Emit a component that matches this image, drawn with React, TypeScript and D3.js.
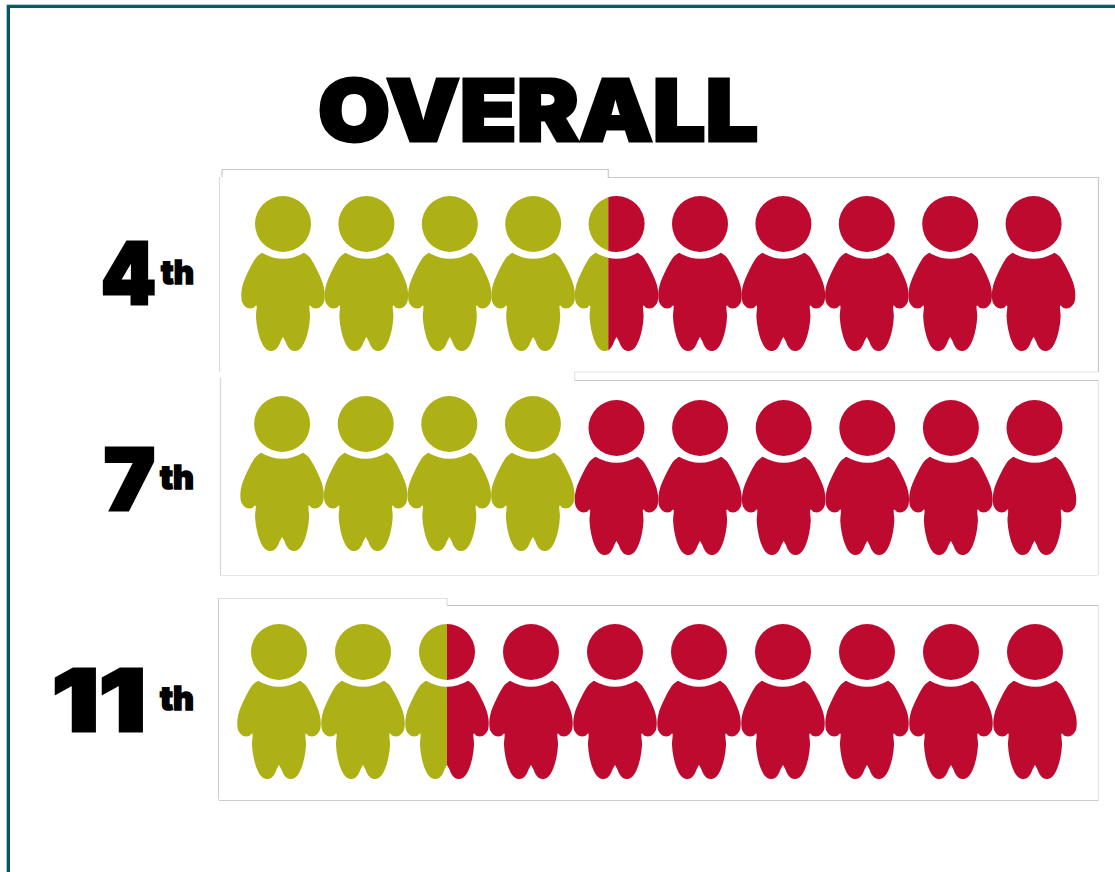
import React from "react";
import * as d3 from "d3";

// Rows of the pictogram: how many of every ten pupils are on track, by grade.
const grades = ["4", "7", "11"];
const onTrack = [4.4, 4, 2.5];
const peopleCount = 10;

const OLIVE = "#aeb115";
const RED = "#bf0a30";
const TEAL = "#005a5f";
const FONT = "Inter, 'Liberation Sans', Arial, sans-serif";

// Per-row layout: icon span, head centre for each colour group, and label boxes.
const rowLayout = [
  { left: 241.3, right: 1075.3, headY: 224, redHeadY: 224, num: [101, 55, 303.5], th: [161, 33, 283.5] },
  { left: 240.3, right: 1076.3, headY: 424, redHeadY: 428, num: [104, 51, 510], th: [160, 34, 488.5] },
  { left: 237, right: 1077, headY: 652, redHeadY: 652, num: [52, 94, 731], th: [160, 34, 709.5] },
];

const HEAD_R = 28;

// Right half of the body outline, from the neck corner down to the crotch.
const bodyHalf: [number, number][] = [
  [21, 28.7], [26, 32.5], [31, 40], [36, 50], [40, 60], [41.7, 70], [40.5, 79], [35.5, 84], [30, 84], [26.7, 81.5],
  [27, 93], [25.5, 105], [22, 117], [17.5, 124.5], [12.5, 127], [8, 126], [4.5, 122], [2, 116.5], [0, 113],
];

function personPath(): string {
  const line = d3.line().curve(d3.curveCatmullRom.alpha(0.5));
  const right = line(bodyHalf) as string;
  const left = line(bodyHalf.map(([x, y]) => [-x, y] as [number, number]).reverse()) as string;
  const head = d3.path();
  head.moveTo(HEAD_R, 0);
  head.arc(0, 0, HEAD_R, 0, Math.PI * 2);
  head.closePath();
  const neck = `Q0,41 21,28.7Z`;
  return `${head.toString()}${right}L${left.slice(1)}${neck}`;
}

const PERSON = personPath();
const indices = d3.range(peopleCount);

function rowScale(row: number) {
  const { left, right } = rowLayout[row];
  return d3.scaleLinear().domain([0, peopleCount]).range([left, right]);
}

function Row({ row }: { row: number }) {
  const layout = rowLayout[row];
  const x = rowScale(row);
  const split = x(onTrack[row]);
  const clipId = (name: string) => `${name}-${row}`;
  return (
    <g>
      <defs>
        <clipPath id={clipId("on")}>
          <rect x={0} y={0} width={split} height={872} />
        </clipPath>
        <clipPath id={clipId("off")}>
          <rect x={split} y={0} width={1115 - split} height={872} />
        </clipPath>
      </defs>
      <g clipPath={`url(#${clipId("on")})`} fill={OLIVE}>
        {indices.map((i) => (
          <path key={i} d={PERSON} transform={`translate(${x(i + 0.5)},${layout.headY})`} />
        ))}
      </g>
      <g clipPath={`url(#${clipId("off")})`} fill={RED}>
        {indices.map((i) => (
          <path key={i} d={PERSON} transform={`translate(${x(i + 0.5)},${layout.redHeadY})`} />
        ))}
      </g>
      <text
        x={layout.num[0]}
        y={layout.num[2]}
        textLength={layout.num[1]}
        lengthAdjust="spacingAndGlyphs"
        fontFamily={FONT}
        fontWeight={900}
        fontSize={85}
        stroke="#000"
        strokeWidth={3}
        strokeLinejoin="miter"
      >
        {grades[row]}
      </text>
      <text
        x={layout.th[0]}
        y={layout.th[2]}
        textLength={layout.th[1]}
        lengthAdjust="spacingAndGlyphs"
        fontFamily={FONT}
        fontWeight={900}
        fontSize={33}
        stroke="#000"
        strokeWidth={1.5}
        opacity={0.999}
      >
        th
      </text>
    </g>
  );
}

export default function App() {
  const step0 = rowScale(0)(onTrack[0]);
  const step1 = rowScale(1)(onTrack[1]);
  const step2 = rowScale(2)(onTrack[2]);
  return (
    <svg
      width={1115}
      height={872}
      viewBox="0 0 1115 872"
      style={{ position: "absolute", left: 0, top: 0, background: "#fff" }}
    >
      {/* outer frame, open on the right and at the bottom */}
      <path d="M8.5,872V6.5H1115" fill="none" stroke={TEAL} strokeWidth={3} />
      <path d="M6.5,872V4.6H1115" fill="none" stroke="#a9c6c9" strokeWidth={1} />

      {/* stepped panel outlines behind the icons */}
      <g fill="none" strokeWidth={1.2}>
        <path d={`M222,177V169.5H${step0}V177.5H1098.5V372`} stroke="#c9c9c9" />
        <path d="M219.5,177V372" stroke="#dcdcdc" />
        <path d={`M${step1},380V372H1098`} stroke="#e4e4e4" />
        <path d={`M${step1},380.5H1098.5`} stroke="#c4c4c4" />
        <path d="M1098.5,380.5V575M220.5,378V575.5H1098" stroke="#e6e6e6" />
        <path d="M220.5,378V575" stroke="#d8d8d8" />
        <path d={`M219,598.5H${step2}V605`} stroke="#e0e0e0" />
        <path d={`M${step2},605.5H1098.5`} stroke="#c4c4c4" />
        <path d="M1098.5,605.5V800" stroke="#e6e6e6" />
        <path d="M218.5,598V799.5" stroke="#d0d0d0" />
        <path d="M219,800.5H1098.5" stroke="#cccccc" />
      </g>

      <text
        x={318}
        y={140.5}
        textLength={440}
        lengthAdjust="spacingAndGlyphs"
        fontFamily={FONT}
        fontWeight={900}
        fontSize={85}
        stroke="#000"
        strokeWidth={3}
        strokeLinejoin="miter"
      >
        OVERALL
      </text>

      {grades.map((_, row) => (
        <Row key={row} row={row} />
      ))}
    </svg>
  );
}
